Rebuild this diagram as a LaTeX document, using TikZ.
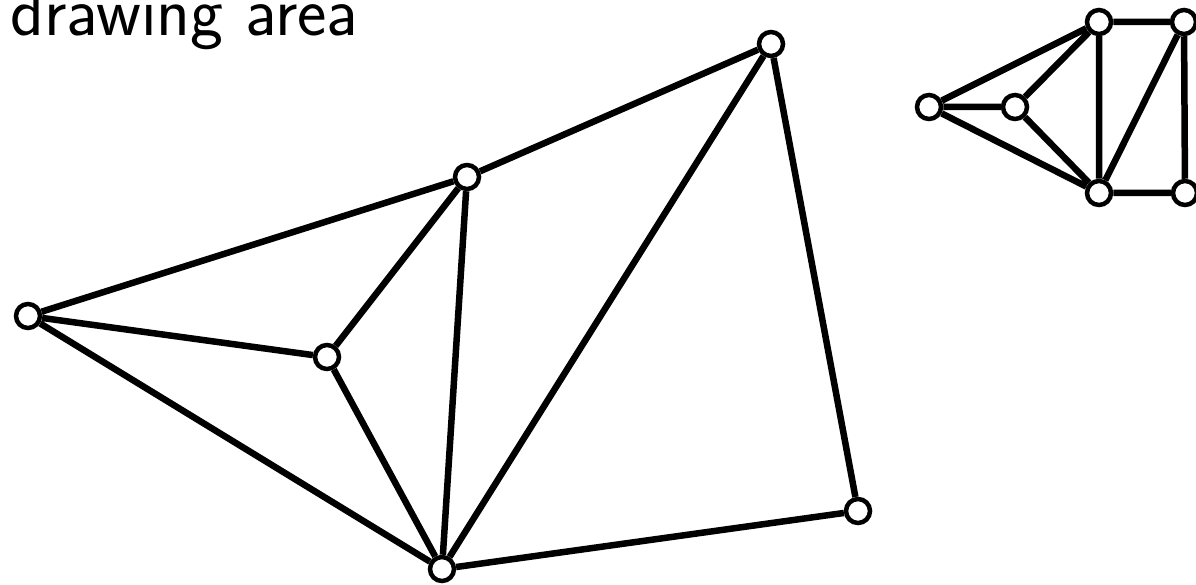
\documentclass[tikz,border=0pt]{standalone}
\begin{document}
\begin{tikzpicture}[x=1pt,y=-1pt,
  vtx/.style={circle,draw=black,fill=white,line width=4.5pt,minimum size=24pt,inner sep=0pt},
  edge/.style={line width=6.5pt,black}]
\useasboundingbox (0,0) rectangle (1196,585);
\node[anchor=base west,inner sep=0pt,font=\fontsize{70}{80}\selectfont\sffamily] (title) at (10,36) {drawing area};
% left graph
\node[vtx] (a) at (28,316) {};
\node[vtx] (b) at (327,357) {};
\node[vtx] (c) at (467,177) {};
\node[vtx] (d) at (771,44) {};
\node[vtx] (e) at (858,511) {};
\node[vtx] (f) at (442,569) {};
\draw[edge] (a)--(c) (a)--(b) (a)--(f) (b)--(c) (b)--(f) (c)--(f) (c)--(d) (d)--(f) (d)--(e) (e)--(f);
% right graph
\node[vtx] (A) at (929,107) {};
\node[vtx] (B) at (1015,107) {};
\node[vtx] (C) at (1099,22) {};
\node[vtx] (D) at (1184,22) {};
\node[vtx] (E) at (1099,193) {};
\node[vtx] (F) at (1185,193) {};
\draw[edge] (A)--(C) (A)--(B) (A)--(E) (B)--(C) (B)--(E) (C)--(E) (C)--(D) (E)--(D) (D)--(F) (E)--(F);
\end{tikzpicture}
\end{document}
